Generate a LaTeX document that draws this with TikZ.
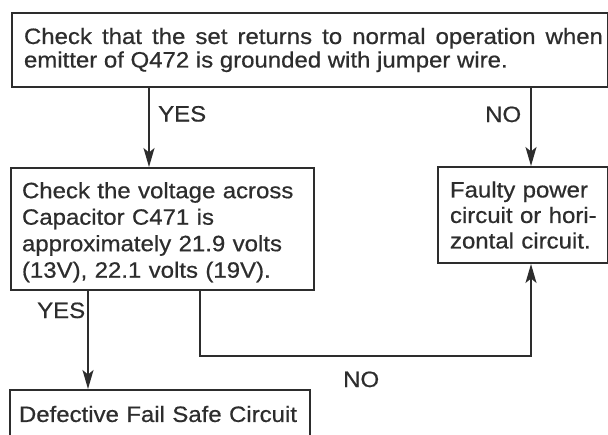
\documentclass[tikz,border=0pt]{standalone}
\usepackage{fontspec}
\setmainfont{Liberation Sans}[FakeStretch=1.08,FakeBold=0.6]
\usetikzlibrary{arrows.meta}
\definecolor{ink}{RGB}{45,45,45}
\begin{document}
\begin{tikzpicture}[x=1pt,y=-1pt,
  box/.style={draw=ink, line width=2pt, inner sep=0pt, anchor=north west, text=ink,
    font=\fontsize{22.2}{26.5}\selectfont},
  arr/.style={draw=ink, line width=1.6pt, -{Stealth[length=19pt,width=11pt,inset=4.5pt]}},
  lbl/.style={text=ink, font=\fontsize{22.2}{25}\selectfont, anchor=base west, inner sep=0pt}]
\useasboundingbox (0,0) rectangle (608,434);
\clip (0,0) rectangle (608,434);
\fill[white] (0,0) rectangle (608,434);

\node[box, minimum width=596pt, minimum height=74pt] (top) at (11,12)
  {\hspace*{12pt}\parbox{579pt}{\fontsize{22.2}{23.5}\selectfont Check that the set returns to normal operation when\break emitter of Q472 is grounded with jumper wire.}\hspace*{5pt}};

\node[box, text width=281pt, inner xsep=11pt, minimum height=122pt, align=left] (check) at (10,167)
  {\rule{0pt}{22.5pt}Check the voltage across\\ Capacitor C471 is\\ approximately 21.9 volts\\ (13V), 22.1 volts (19V).};

\node[box, text width=146pt, inner xsep=12pt, minimum height=96pt, align=left,
  font=\fontsize{22.2}{25.5}\selectfont] (faulty) at (437,166)
  {\mbox{Faulty power}\\ \mbox{circuit or hori-}\\ \mbox{zontal circuit.}};

\node[box, text width=282pt, inner xsep=9pt, minimum height=48pt, align=left] (defect) at (9,389)
  {Defective Fail Safe Circuit};

\coordinate (xa) at (149,0);
\coordinate (xb) at (531,0);
\coordinate (xc) at (88,0);
\coordinate (xd) at (200,0);
\coordinate (yd) at (0,356);

\draw[arr] (top.south -| xa) -- (check.north -| xa);
\draw[arr] (top.south -| xb) -- (faulty.north -| xb);
\draw[arr] (check.south -| xc) -- (defect.north -| xc);
\draw[arr] (check.south -| xd) |- (yd -| xb) -- (faulty.south -| xb);

\node[lbl] (yes1) at (158,121.5) {YES};
\node[lbl] (no1) at (485,122) {NO};
\node[lbl] (yes2) at (37,318) {YES};
\node[lbl] (no2) at (343,387) {NO};
\end{tikzpicture}
\end{document}
